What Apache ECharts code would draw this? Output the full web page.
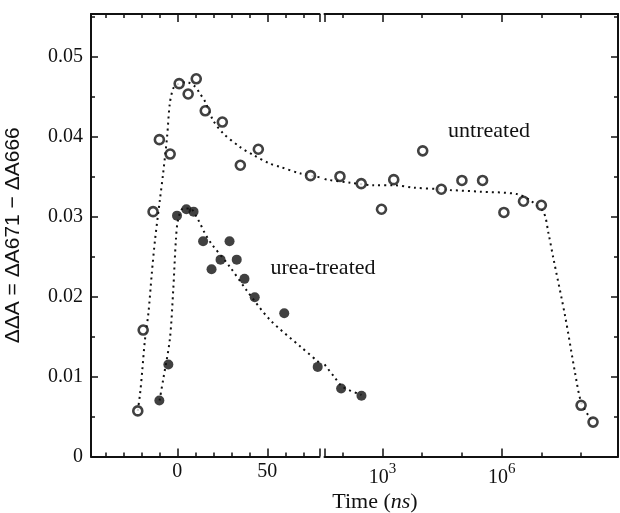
<!DOCTYPE html>
<html>
<head>
<meta charset="utf-8">
<script src="https://cdn.jsdelivr.net/npm/echarts@6/dist/echarts.min.js"></script>
<style>
html,body{margin:0;padding:0;background:#fff;}
#chart{width:620px;height:513px;}
</style>
</head>
<body>
<div id="chart"></div>
<script>
// untreated (open circles), linear part of the time axis (ns)
var untreatedLinT = [-22, -19, -13.5, -10, -4, 1, 6, 10.5, 15.5, 25, 35, 45, 74];
var untreatedLinV = [0.0057, 0.0158, 0.0306, 0.0396, 0.0378, 0.0466, 0.0453, 0.0472, 0.0432, 0.0418, 0.0364, 0.0384, 0.0351];
// untreated, log part
var untreatedLogT = [85, 292, 944, 1920, 10300, 30300, 100000, 331000, 1.14e6, 3.55e6, 1.0e7, 1.0e8, 2.0e8];
var untreatedLogV = [0.0350, 0.0341, 0.0309, 0.0346, 0.0382, 0.0334, 0.0345, 0.0345, 0.0305, 0.0319, 0.0314, 0.0064, 0.0043];

// urea-treated (filled circles)
var ureaLinT = [-10, -5, -0.2, 5, 9, 14.3, 19, 24, 29, 33, 37.3, 43, 59.4, 78];
var ureaLinV = [0.0070, 0.0115, 0.0301, 0.0309, 0.0306, 0.0269, 0.0234, 0.0246, 0.0269, 0.0246, 0.0222, 0.0199, 0.0179, 0.0112];
var ureaLogT = [91, 296];
var ureaLogV = [0.0085, 0.0076];

// dotted fit curves
var untreatedFitLinT = [-22, -20.7, -19.5, -18, -16.1, -14.2, -12.4, -9.7, -7.9, -5.7, -4.2, -2.3, 0, 5, 10, 12.4, 15.3, 19.9, 25.4, 34.7, 42, 51.4, 57, 68, 79];
var untreatedFitLinV = [0.0057, 0.0079, 0.0108, 0.0146, 0.0179, 0.0229, 0.0271, 0.0321, 0.0354, 0.0400, 0.0441, 0.0460, 0.0465, 0.0468, 0.0462, 0.0454, 0.0444, 0.0420, 0.0404, 0.0387, 0.0377, 0.0366, 0.0362, 0.0354, 0.0349];
var untreatedFitLogT = [35, 40, 158, 603, 2000, 6170, 28800, 50100, 288000, 2.4e6, 5.25e6, 1.12e7, 1.51e7, 2.0e7, 3.98e7, 7.08e7, 1.0e8, 1.58e8, 2.0e8];
var untreatedFitLogV = [0.0347, 0.0346, 0.0342, 0.0339, 0.0339, 0.0336, 0.0334, 0.0333, 0.0331, 0.0328, 0.0320, 0.0306, 0.0279, 0.0248, 0.0175, 0.0104, 0.0068, 0.0050, 0.0043];
var ureaFitLinT = [-9.9, -7.9, -4.2, -2.3, -0.8, 0.4, 3.2, 7, 11.5, 15.3, 18.9, 29.2, 38.4, 51.4, 68.6, 79];
var ureaFitLinV = [0.0070, 0.0096, 0.0146, 0.0208, 0.0271, 0.0296, 0.0310, 0.0310, 0.0296, 0.0279, 0.0266, 0.0237, 0.0208, 0.0171, 0.0137, 0.0117];
var ureaFitLogT = [35, 60, 100, 296];
var ureaFitLogV = [0.0115, 0.0100, 0.0087, 0.0077];

// ticks
var linMajorTicks = [0, 50];
var linMinorTicks = [-40, -30, -20, -10, 10, 20, 30, 40, 60, 70];
var logMajorTicks = [1000, 1e6];
var logMinorTicks = [100, 1e4, 1e5, 1e7, 1e8];

function zip(a, b) {
  return a.map(function (v, i) { return [v, b[i]]; });
}

var serif = 'Liberation Serif';
var black = '#111';

function xAx(grid, type, pos, ticks, len, line, labels) {
  var ax = {
    gridIndex: grid,
    type: type,
    position: pos,
    min: type === 'log' ? 34.7 : -48,
    max: type === 'log' ? 8.5e8 : 79,
    splitLine: { show: false },
    axisLine: { show: line, onZero: false, lineStyle: { color: black, width: 2 } },
    axisTick: { show: true, inside: true, length: len, customValues: ticks, lineStyle: { color: black, width: 1.5 } },
    axisLabel: { show: false }
  };
  if (type === 'log') ax.logBase = 10;
  if (labels) {
    ax.axisLabel = {
      show: true, customValues: labels, margin: 5, color: black,
      fontFamily: serif, fontSize: 20,
      formatter: function (v) {
        if (type === 'log') return '{b|10}{s|' + Math.round(Math.log10(v)) + '}';
        return String(v);
      },
      rich: {
        b: { fontFamily: serif, fontSize: 20, color: black, lineHeight: 26, verticalAlign: 'bottom' },
        s: { fontFamily: serif, fontSize: 15, color: black, lineHeight: 26, verticalAlign: 'top' }
      }
    };
  }
  return ax;
}

function yAx(grid, pos, labels) {
  return {
    gridIndex: grid,
    type: 'value',
    position: pos,
    min: 0,
    max: 0.0553,
    interval: 0.01,
    splitLine: { show: false },
    axisLine: { show: true, onZero: false, lineStyle: { color: black, width: 2 } },
    axisTick: { show: true, inside: true, length: 7, lineStyle: { color: black, width: 1.5 } },
    minorTick: { show: true, splitNumber: 2, length: 4, lineStyle: { color: black, width: 1.5 } },
    axisLabel: labels ? {
      show: true, margin: 8, color: black, fontFamily: serif, fontSize: 20,
      showMaxLabel: false,
      formatter: function (v) { return v === 0 ? '0' : v.toFixed(2); }
    } : { show: false },
    name: labels ? 'ΔΔA = ΔA671 − ΔA666' : '',
    nameLocation: 'middle',
    nameGap: 67,
    nameTextStyle: { fontFamily: 'Liberation Sans', fontSize: 21, color: black }
  };
}

var openStyle = { color: '#fff', borderColor: black, borderWidth: 2.6 };
var fillStyle = { color: black };
var fitStyle = { color: black, width: 2, type: [2, 4], cap: 'butt' };

function fit(xi, yi, t, v) {
  return {
    type: 'line', xAxisIndex: xi, yAxisIndex: yi, data: zip(t, v),
    showSymbol: false, smooth: 0.3, lineStyle: fitStyle, silent: true, z: 1
  };
}
function pts(xi, yi, t, v, style, size) {
  return {
    type: 'scatter', xAxisIndex: xi, yAxisIndex: yi, data: zip(t, v),
    symbol: 'circle', symbolSize: size, itemStyle: style, z: 3
  };
}

var chart = echarts.init(document.getElementById('chart'));
chart.setOption({
  backgroundColor: '#fff',
  animation: false,
  grid: [
    { left: 91, top: 14, width: 228.5, height: 442.5 },
    { left: 324.5, top: 14, width: 293.5, height: 442.5 }
  ],
  xAxis: [
    xAx(0, 'value', 'bottom', linMajorTicks.concat([79]), 8, true, linMajorTicks),
    xAx(0, 'value', 'bottom', linMinorTicks, 4, false, null),
    xAx(0, 'value', 'top', linMajorTicks.concat([79]), 8, true, null),
    xAx(0, 'value', 'top', linMinorTicks, 4, false, null),
    xAx(1, 'log', 'bottom', [35].concat(logMajorTicks), 8, true, logMajorTicks),
    xAx(1, 'log', 'bottom', logMinorTicks, 4, false, null),
    xAx(1, 'log', 'top', [35].concat(logMajorTicks), 8, true, null),
    xAx(1, 'log', 'top', logMinorTicks, 4, false, null)
  ],
  yAxis: [
    yAx(0, 'left', true),
    yAx(1, 'right', false)
  ],
  graphic: [
    { type: 'text', x: 375, y: 502, style: { text: 'Time ({i|ns})', textAlign: 'center', textVerticalAlign: 'middle', fontFamily: serif, fontSize: 22, fill: black, rich: { i: { fontFamily: serif, fontStyle: 'italic', fontSize: 22, fill: black } } } },
    { type: 'text', x: 489, y: 131, style: { text: 'untreated', textAlign: 'center', textVerticalAlign: 'middle', fontFamily: serif, fontSize: 22, fill: black } },
    { type: 'text', x: 323, y: 268, style: { text: 'urea-treated', textAlign: 'center', textVerticalAlign: 'middle', fontFamily: serif, fontSize: 22, fill: black } }
  ],
  series: [
    fit(0, 0, untreatedFitLinT, untreatedFitLinV),
    fit(4, 1, untreatedFitLogT, untreatedFitLogV),
    fit(0, 0, ureaFitLinT, ureaFitLinV),
    fit(4, 1, ureaFitLogT, ureaFitLogV),
    pts(0, 0, untreatedLinT, untreatedLinV, openStyle, 9),
    pts(4, 1, untreatedLogT, untreatedLogV, openStyle, 9),
    pts(0, 0, ureaLinT, ureaLinV, fillStyle, 10),
    pts(4, 1, ureaLogT, ureaLogV, fillStyle, 10)
  ]
});
</script>
</body>
</html>
